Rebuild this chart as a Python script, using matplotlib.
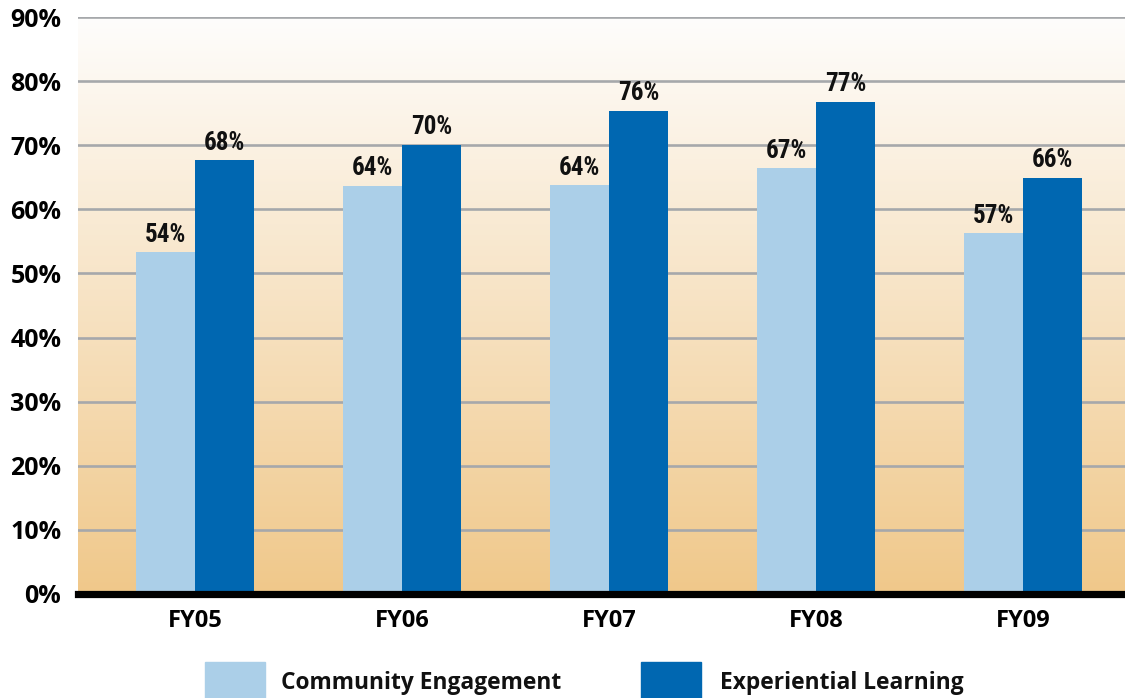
import numpy as np
import matplotlib
matplotlib.use("Agg")
import matplotlib.pyplot as plt
from matplotlib.patches import Rectangle
from matplotlib.colors import LinearSegmentedColormap

categories = ["FY05", "FY06", "FY07", "FY08", "FY09"]
series_names = ["Community Engagement", "Experiential Learning"]
community = [53.3, 63.7, 63.8, 66.4, 56.3]
experiential = [67.7, 70.1, 75.4, 76.8, 64.9]
community_labels = ["54%", "64%", "64%", "67%", "57%"]
experiential_labels = ["68%", "70%", "76%", "77%", "66%"]
yticks = [0, 10, 20, 30, 40, 50, 60, 70, 80, 90]
ytick_labels = ["0%", "10%", "20%", "30%", "40%", "50%", "60%", "70%", "80%", "90%"]

c_light = "#abcfe8"
c_dark = "#0067b1"

W, H = 1125, 698
fig = plt.figure(figsize=(W / 100, H / 100), dpi=100)
ax_left, ax_right = 78 / W, 1.0
ax_bottom, ax_top = (H - 593.7) / H, (H - 17.3) / H
ax = fig.add_axes([ax_left, ax_bottom, ax_right - ax_left, ax_top - ax_bottom])

x = np.arange(len(categories))
bw = 59 / 207
xmin, xmax = -117 / 207, -117 / 207 + 1047 / 207
ax.set_xlim(xmin, xmax)
ax.set_ylim(0, 90)

# gradient background
cmap = LinearSegmentedColormap.from_list("bg", ["#f0c88a", "#fefdfc"])
grad = np.linspace(0, 1, 256).reshape(-1, 1)
ax.imshow(grad, cmap=cmap, aspect="auto", origin="lower",
          extent=[xmin, xmax, 0, 90], zorder=0)

for t in yticks[1:]:
    ax.axhline(t, color="#a6a8ab", lw=1.9, zorder=1)

ax.bar(x - bw / 2, community, bw, color=c_light, zorder=2)
ax.bar(x + bw / 2, experiential, bw, color=c_dark, zorder=2)
ax.axhline(0, color="black", lw=5.2, zorder=3, clip_on=False)

lab_font = dict(family=["Roboto Condensed", "Barlow Condensed", "DejaVu Sans"],
                fontweight="bold", fontsize=18, color="#111111")
for xi, v, s in zip(x, community, community_labels):
    ax.annotate(s, (xi - bw / 2, v), xytext=(0, 4), textcoords="offset points",
                ha="center", va="bottom", **lab_font)
for xi, v, s in zip(x, experiential, experiential_labels):
    ax.annotate(s, (xi + bw / 2, v), xytext=(0, 4), textcoords="offset points",
                ha="center", va="bottom", **lab_font)

for sp in ax.spines.values():
    sp.set_visible(False)
ax.set_yticks(yticks)
ax.set_yticklabels(ytick_labels, fontsize=18, fontweight="bold", family="Open Sans")
ax.set_xticks(x)
ax.set_xticklabels(categories, fontsize=17, fontweight="bold", family="Open Sans")
ax.tick_params(axis="y", length=0, pad=12)
ax.tick_params(axis="x", length=0, pad=11)

# legend
for (x0, tx, col, name) in [(205, 281, c_light, series_names[0]),
                            (641, 720, c_dark, series_names[1])]:
    fig.add_artist(Rectangle((x0 / W, 0), 60 / W, 36 / H, transform=fig.transFigure,
                             color=col))
    fig.text(tx / W, (H - 683) / H, name, fontsize=16.4, fontweight="bold",
             family="Open Sans", va="center", ha="left", color="#111111")

fig.savefig("out.png", dpi=100)
